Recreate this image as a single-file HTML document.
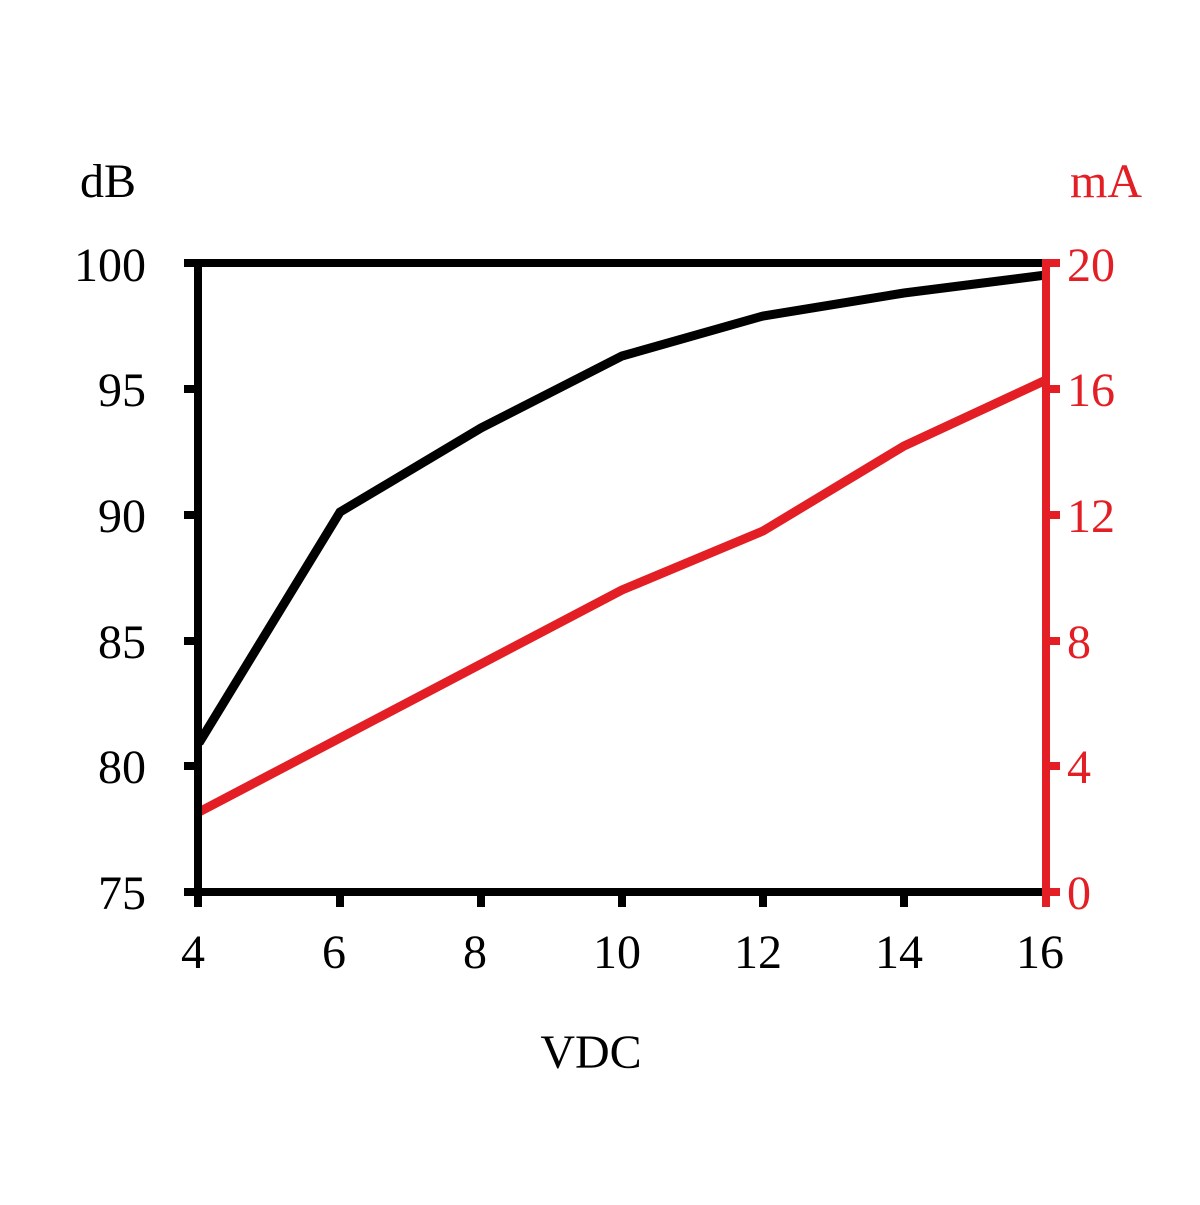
<!DOCTYPE html>
<html><head><style>html,body{margin:0;padding:0;background:#fff}</style></head>
<body>
<svg width="1200" height="1200" xmlns="http://www.w3.org/2000/svg" font-family="Liberation Serif, serif" font-size="48">
<rect width="1200" height="1200" fill="#fff"/>
<polyline fill="none" stroke="#e31e24" stroke-width="9" points="199,812 340,738 481,664 622,590 763,531 904,446 1046,380"/>
<polyline fill="none" stroke="#000" stroke-width="9" points="199,743 340,512 481,428 622,356 763,316 904,293 1046,275"/>
<line x1="184" y1="263" x2="1046" y2="263" stroke="#000" stroke-width="8"/>
<line x1="198" y1="263" x2="198" y2="907" stroke="#000" stroke-width="8"/>
<line x1="184" y1="892" x2="1046" y2="892" stroke="#000" stroke-width="8"/>
<g stroke="#000" stroke-width="8">
<line x1="184" y1="389" x2="198" y2="389"/>
<line x1="184" y1="515" x2="198" y2="515"/>
<line x1="184" y1="641" x2="198" y2="641"/>
<line x1="184" y1="766" x2="198" y2="766"/>
<line x1="340" y1="892" x2="340" y2="907"/>
<line x1="481" y1="892" x2="481" y2="907"/>
<line x1="622" y1="892" x2="622" y2="907"/>
<line x1="763" y1="892" x2="763" y2="907"/>
<line x1="904" y1="892" x2="904" y2="907"/>
</g>
<line x1="1046" y1="259" x2="1046" y2="907" stroke="#e31e24" stroke-width="8"/>
<g stroke="#e31e24" stroke-width="8">
<line x1="1046" y1="263" x2="1060" y2="263"/>
<line x1="1046" y1="389" x2="1060" y2="389"/>
<line x1="1046" y1="515" x2="1060" y2="515"/>
<line x1="1046" y1="641" x2="1060" y2="641"/>
<line x1="1046" y1="766" x2="1060" y2="766"/>
<line x1="1046" y1="892" x2="1060" y2="892"/>
</g>
<g text-anchor="end" fill="#000">
<text x="146" y="281">100</text>
<text x="146" y="406">95</text>
<text x="146" y="532">90</text>
<text x="146" y="658">85</text>
<text x="146" y="783">80</text>
<text x="146" y="909">75</text>
</g>
<g text-anchor="start" fill="#e31e24">
<text x="1067" y="281">20</text>
<text x="1067" y="406">16</text>
<text x="1067" y="532">12</text>
<text x="1067" y="658">8</text>
<text x="1067" y="783">4</text>
<text x="1067" y="909">0</text>
</g>
<g text-anchor="middle" fill="#000">
<text x="193" y="968">4</text>
<text x="334" y="968">6</text>
<text x="475" y="968">8</text>
<text x="617" y="968">10</text>
<text x="758" y="968">12</text>
<text x="899" y="968">14</text>
<text x="1040" y="968">16</text>
<text x="591" y="1068">VDC</text>
</g>
<text x="80" y="197" fill="#000">dB</text>
<text x="1070" y="197" fill="#e31e24">mA</text>
</svg>
</body></html>
